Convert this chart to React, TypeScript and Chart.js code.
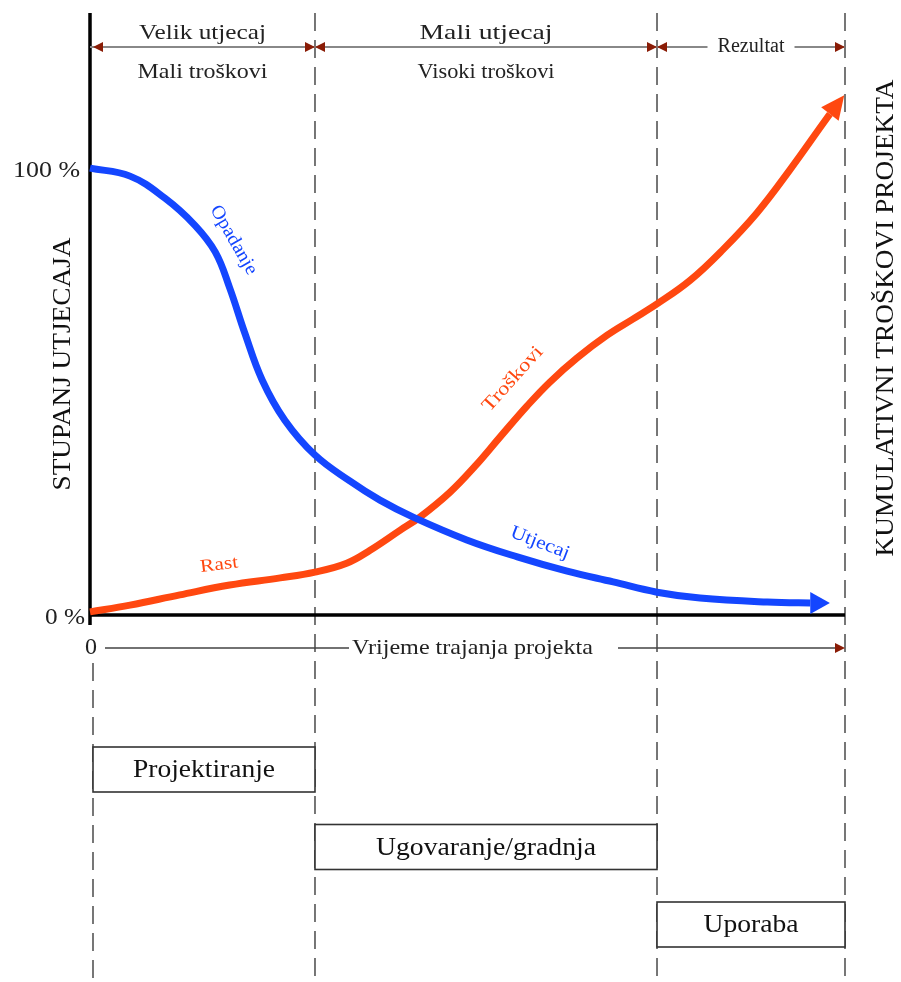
import React, { useEffect, useRef } from "react";
import { Chart, registerables } from "chart.js";

Chart.register(...registerables);

// ---- data ----
const phaseBounds = [0, 29.8, 75.1, 100];
const impactLabels = ["Velik utjecaj", "Mali utjecaj", "Rezultat"];
const costLabels = ["Mali troškovi", "Visoki troškovi", ""];
const phaseNames = ["Projektiranje", "Ugovaranje/gradnja", "Uporaba"];

const impactX = [0, 5.3, 9.9, 13.9, 16.6, 18.5, 20.5, 22.8, 25.8, 29.8, 34.4, 38.4, 42.8, 49.9, 56.6, 63.2, 69.3, 75.1, 80.8, 89.7, 95.4, 98.0];
const impactY = [100, 98.2, 93.3, 87.2, 81.2, 73.2, 63.1, 52.6, 43.6, 35.8, 30.0, 25.7, 21.9, 16.8, 13.0, 9.8, 7.4, 5.1, 3.8, 2.9, 2.7, 2.7];

const costX = [0, 5.3, 11.9, 18.5, 25.2, 29.8, 34.0, 37.1, 41.1, 43.7, 47.7, 51.0, 54.3, 57.9, 60.9, 64.5, 68.5, 71.9, 75.1, 79.5, 83.8, 88.3, 92.7, 98.0, 99.9];
const costY = [0.7, 2.2, 4.5, 6.7, 8.3, 9.6, 11.6, 14.5, 19.0, 21.9, 27.5, 33.3, 39.8, 46.8, 52.1, 57.5, 62.6, 66.2, 69.6, 74.9, 81.7, 89.9, 99.6, 112.1, 116.3];

const yTickValues = [0, 100];
const yTickLabels = ["0 %", "100 %"];
const timeLabel = "Vrijeme trajanja projekta";
const timeZero = "0";
const leftTitle = "STUPANJ UTJECAJA";
const rightTitle = "KUMULATIVNI TROŠKOVI PROJEKTA";
const impactCurveLabels = ["Opadanje", "Utjecaj"];
const costCurveLabels = ["Rast", "Troškovi"];

// ---- styles ----
const BLUE = "#1446ff";
const ORANGE = "#ff4810";
const DARKRED = "#8a1c06";
const FONT = '"Liberation Serif", "Times New Roman", serif';
// rendered text widths (px) to match the lettering of the original
const TEXT_W: Record<string, number> = {
  "Velik utjecaj": 127,
  "Mali troškovi": 130,
  "Mali utjecaj": 133,
  "Visoki troškovi": 137,
  Rezultat: 67,
  "100 %": 67,
  "0 %": 40,
  "0": 12,
  "Vrijeme trajanja projekta": 241,
  "STUPANJ UTJECAJA": 253,
  "KUMULATIVNI TROŠKOVI PROJEKTA": 477,
  Projektiranje: 142,
  "Ugovaranje/gradnja": 220,
  Uporaba: 95,
  Opadanje: 77,
  Troškovi: 81,
  Utjecaj: 62,
  Rast: 38,
};

function drawText(
  ctx: CanvasRenderingContext2D,
  text: string,
  x: number,
  y: number,
  size: number,
  color = "#222",
  angle = 0,
  align: CanvasTextAlign = "center"
) {
  ctx.save();
  ctx.font = `${size}px ${FONT}`;
  const m = ctx.measureText(text).width;
  const w = TEXT_W[text];
  const sx = w ? w / m : 1;
  ctx.translate(x, y);
  ctx.rotate((angle * Math.PI) / 180);
  ctx.scale(sx, 1);
  ctx.fillStyle = color;
  ctx.textAlign = align;
  ctx.textBaseline = "middle";
  ctx.fillText(text, 0, 0);
  ctx.restore();
  return m * sx;
}

function smallArrow(ctx: CanvasRenderingContext2D, tipX: number, y: number, dir: number) {
  ctx.beginPath();
  ctx.moveTo(tipX, y);
  ctx.lineTo(tipX - dir * 10, y - 5);
  ctx.lineTo(tipX - dir * 10, y + 5);
  ctx.closePath();
  ctx.fillStyle = DARKRED;
  ctx.fill();
}

const diagramPlugin = {
  id: "diagram",
  beforeDatasetsDraw(chart: any) {
    const { ctx, chartArea: a, scales } = chart;
    const x = scales.x;
    const y = scales.y;
    const H = chart.height;
    ctx.save();

    // dashed phase boundaries
    ctx.strokeStyle = "#555";
    ctx.lineWidth = 1.6;
    ctx.setLineDash([18, 9]);
    phaseBounds.forEach((b, i) => {
      const px = x.getPixelForValue(b);
      ctx.beginPath();
      if (i === 0) {
        ctx.moveTo(px + 3, a.bottom + 48);
        ctx.lineTo(px + 3, H);
      } else {
        ctx.moveTo(px, a.top);
        ctx.lineTo(px, H);
      }
      ctx.stroke();
    });
    ctx.setLineDash([]);

    // phase boxes
    phaseBounds.slice(0, -1).forEach((b, i) => {
      const x0 = x.getPixelForValue(b) + (i === 0 ? 3 : 0);
      const x1 = x.getPixelForValue(phaseBounds[i + 1]);
      const top = a.bottom + 132 + i * 77.5;
      const h = 45;
      ctx.fillStyle = "#fff";
      ctx.fillRect(x0, top, x1 - x0, h);
      ctx.strokeStyle = "#333";
      ctx.lineWidth = 1.6;
      ctx.strokeRect(x0, top, x1 - x0, h);
      drawText(ctx, phaseNames[i], (x0 + x1) / 2, top + h / 2 + 1, 26, "#111");
    });

    // axes
    ctx.strokeStyle = "#000";
    ctx.lineWidth = 3.5;
    ctx.beginPath();
    ctx.moveTo(a.left, a.top);
    ctx.lineTo(a.left, a.bottom + 10);
    ctx.moveTo(a.left, a.bottom);
    ctx.lineTo(a.right, a.bottom);
    ctx.stroke();

    // y tick labels
    yTickValues.forEach((v, i) => {
      const py = y.getPixelForValue(v);
      drawText(ctx, yTickLabels[i], a.left - (v === 0 ? 5 : 10), py + 3, 23, "#222", 0, "right");
    });

    // top phase annotation arrows
    const ay = a.top + 34;
    ctx.strokeStyle = "#888";
    ctx.lineWidth = 2;
    ctx.beginPath();
    ctx.moveTo(a.left, ay);
    ctx.lineTo(a.right, ay);
    ctx.stroke();
    phaseBounds.slice(0, -1).forEach((b, i) => {
      const x0 = x.getPixelForValue(b);
      const x1 = x.getPixelForValue(phaseBounds[i + 1]);
      const cx = (x0 + x1) / 2;
      if (i === phaseBounds.length - 2) {
        const w = TEXT_W[impactLabels[i]] || 60;
        ctx.fillStyle = "#fff";
        ctx.fillRect(cx - w / 2 - 10, ay - 10, w + 20, 20);
        drawText(ctx, impactLabels[i], cx, ay, 20, "#222");
      } else {
        drawText(ctx, impactLabels[i], cx, ay - 14, 22, "#222");
        drawText(ctx, costLabels[i], cx, ay + 25, 22, "#222");
      }
      smallArrow(ctx, x0 + (i === 0 ? 3 : 0), ay, -1);
      smallArrow(ctx, x1, ay, 1);
    });

    // time axis
    const ty = a.bottom + 33;
    drawText(ctx, timeZero, a.left + 1, ty, 23, "#222");
    const tw = TEXT_W[timeLabel];
    const tcx = (a.left + a.right) / 2 + 5;
    drawText(ctx, timeLabel, tcx, ty, 22, "#222");
    ctx.strokeStyle = "#444";
    ctx.lineWidth = 1.6;
    ctx.beginPath();
    ctx.moveTo(a.left + 15, ty);
    ctx.lineTo(tcx - tw / 2 - 3, ty);
    ctx.moveTo(tcx + tw / 2 + 25, ty);
    ctx.lineTo(a.right - 4, ty);
    ctx.stroke();
    smallArrow(ctx, a.right, ty, 1);

    // axis titles
    drawText(ctx, leftTitle, 63, 364, 25, "#111", -90);
    drawText(ctx, rightTitle, 886, (a.top + a.bottom) / 2 + 4, 25, "#111", -90);

    ctx.restore();
  },
  afterDatasetsDraw(chart: any) {
    const { ctx, scales } = chart;
    const x = scales.x;
    const y = scales.y;
    ctx.save();
    // arrowheads at curve ends
    chart.data.datasets.forEach((ds: any, di: number) => {
      const pts = chart.getDatasetMeta(di).data;
      const tip = pts[pts.length - 1];
      const base = pts[pts.length - 2];
      const dx = tip.x - base.x;
      const dy = tip.y - base.y;
      const L = Math.hypot(dx, dy);
      const nx = -dy / L;
      const ny = dx / L;
      const hw = 11;
      ctx.fillStyle = ds.borderColor;
      ctx.beginPath();
      ctx.moveTo(tip.x, tip.y);
      ctx.lineTo(base.x + nx * hw, base.y + ny * hw);
      ctx.lineTo(base.x - nx * hw, base.y - ny * hw);
      ctx.closePath();
      ctx.fill();
    });

    // curve labels
    drawText(ctx, impactCurveLabels[0], x.getPixelForValue(19.0), y.getPixelForValue(83.9), 19, BLUE, 60);
    drawText(ctx, impactCurveLabels[1], x.getPixelForValue(59.6), y.getPixelForValue(16.1), 19, BLUE, 21);
    drawText(ctx, costCurveLabels[0], x.getPixelForValue(17.1), y.getPixelForValue(11.2), 18, ORANGE, -7);
    drawText(ctx, costCurveLabels[1], x.getPixelForValue(56.0), y.getPixelForValue(52.8), 19, ORANGE, -48);
    ctx.restore();
  },
};

export default function App() {
  const ref = useRef<HTMLCanvasElement>(null);
  useEffect(() => {
    const nImp = impactX.length;
    const nCost = costX.length;
    const chart = new Chart(ref.current as HTMLCanvasElement, {
      type: "line",
      data: {
        datasets: [
          {
            label: "Utjecaj",
            data: impactX.map((v, i) => ({ x: v, y: impactY[i] })),
            borderColor: BLUE,
            borderWidth: 7,
            pointRadius: 0,
            tension: 0.4,
            clip: false as any,
            segment: {
              borderColor: (c: any) => (c.p1DataIndex === nImp - 1 ? "rgba(0,0,0,0)" : undefined),
            },
          },
          {
            label: "Troškovi",
            data: costX.map((v, i) => ({ x: v, y: costY[i] })),
            borderColor: ORANGE,
            borderWidth: 7,
            pointRadius: 0,
            tension: 0.4,
            clip: false as any,
            segment: {
              borderColor: (c: any) => (c.p1DataIndex === nCost - 1 ? "rgba(0,0,0,0)" : undefined),
            },
          },
        ],
      },
      options: {
        responsive: false,
        animation: false,
        layout: { padding: { left: 90, right: 56, top: 13, bottom: 367 } },
        scales: {
          x: { type: "linear", min: 0, max: 100, display: false },
          y: { type: "linear", min: 0, max: 134.7, display: false },
        },
        plugins: { legend: { display: false }, tooltip: { enabled: false } },
      },
      plugins: [diagramPlugin],
    });
    return () => chart.destroy();
  }, []);
  return (
    <div style={{ position: "absolute", left: 0, top: 0, width: 901, height: 982, background: "#fff" }}>
      <canvas ref={ref} width={901} height={982} style={{ width: 901, height: 982, display: "block" }} />
    </div>
  );
}
